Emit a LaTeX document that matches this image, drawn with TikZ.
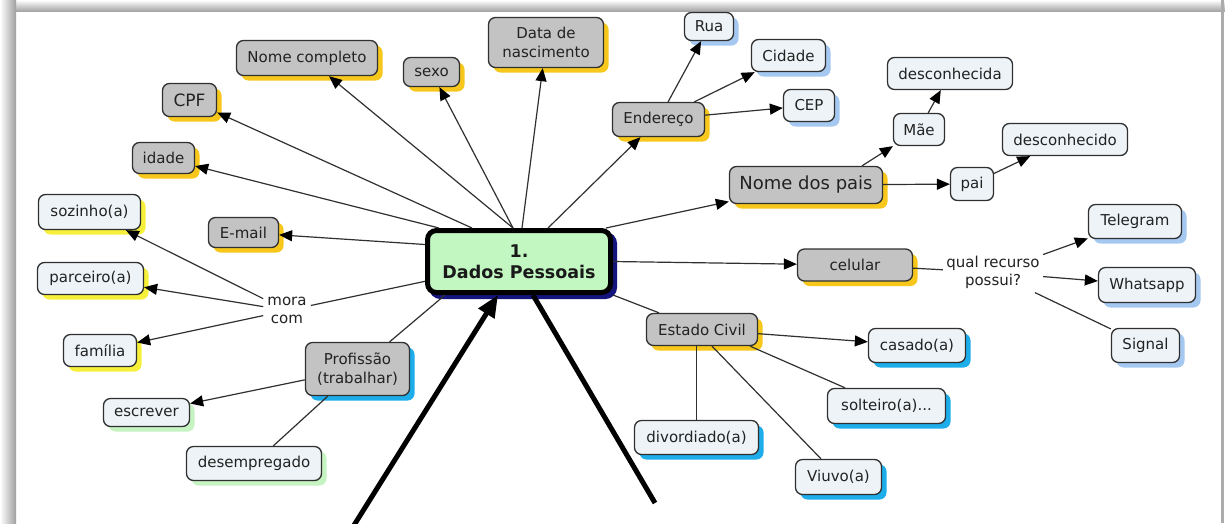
\documentclass[tikz,border=0pt]{standalone}
\usepackage{fontspec}
\setmainfont{DejaVu Sans}
\usetikzlibrary{arrows.meta,shadows,calc}

\definecolor{nodegray}{HTML}{C3C3C3}
\definecolor{nodelight}{HTML}{EDF3F7}
\definecolor{edgecol}{HTML}{303030}
\definecolor{shgold}{HTML}{F7C71C}
\definecolor{shyellow}{HTML}{F6F03A}
\definecolor{shpale}{HTML}{A4C8F0}
\definecolor{shcyan}{HTML}{1EADEB}
\definecolor{shgreen}{HTML}{C6F3C2}
\definecolor{centerfill}{HTML}{C2F7C2}
\definecolor{centershadow}{HTML}{14147E}
\definecolor{textcol}{HTML}{222222}

\begin{document}
\begin{tikzpicture}[x=1pt,y=-1pt,
  concept/.style={rounded corners=7pt, draw=edgecol, line width=1.3pt,
    font=\fontsize{15}{19}\selectfont, text=textcol, inner xsep=9pt,
    inner ysep=3pt, align=center},
  sz/.style 2 args={minimum width=#1, minimum height=#2},
  graynode/.style={concept, fill=nodegray},
  lightnode/.style={concept, fill=nodelight},
  sh/.style={drop shadow={shadow xshift=5pt, shadow yshift=-5pt, fill=#1, opacity=1}},
  link/.style={draw=edgecol, line width=1.2pt},
  arr/.style={link, -{Triangle[length=13pt,width=11pt,color=black]}},
  phrase/.style={font=\fontsize{15}{18.5}\selectfont, text=textcol, align=center},
  bigline/.style={line width=5pt, black}
]
% page frame with soft grey border
\useasboundingbox (0,0) rectangle (1225,523);
\fill[white] (0,0) rectangle (1225,523);
\shade[top color=white, bottom color=gray!70] (0,0) rectangle (1225,11);
\shade[left color=white, right color=gray!75] (0,0) rectangle (16,523);
\fill[gray!65] (1221,0) rectangle (1224,523);

% central concept
\node[draw=black, line width=5pt, rounded corners=9pt, fill=centerfill,
  minimum width=183pt, minimum height=62pt, align=center,
  font=\bfseries\fontsize{17.5}{21}\selectfont, text=black!90,
  drop shadow={shadow xshift=4pt, shadow yshift=-4pt, fill=centershadow,
    draw=centershadow, opacity=1}]
  (c) at (519,261.5) {1.\\Dados Pessoais};

% first-level concepts
\node[graynode, sh=shgold, sz={141pt}{35pt}] (nome) at (307,58) {Nome completo};
\node[graynode, sh=shgold, sz={54pt}{33pt}, font=\fontsize{17}{19}\selectfont] (cpf) at (189.5,100) {CPF};
\node[graynode, sh=shgold, sz={62pt}{31pt}] (idade) at (163.5,158) {idade};
\node[graynode, sh=shgold, sz={70pt}{30pt}] (email) at (243.5,232.5) {E-mail};
\node[graynode, sh=shgold, sz={56pt}{29pt}] (sexo) at (431.5,72) {sexo};
\node[graynode, sh=shgold, sz={115pt}{50pt}] (data) at (546,42.5) {Data de\\nascimento};
\node[graynode, sh=shgold, sz={92pt}{34pt}] (end) at (658.5,119.5) {Endereço};
\node[graynode, sh=shgold, sz={153pt}{37pt}, font=\fontsize{18}{22}\selectfont] (ndp) at (806,185) {Nome dos pais};
\node[graynode, sh=shgold, sz={115pt}{32pt}] (cel) at (855,265) {celular};
\node[graynode, sh=shgold, sz={111pt}{32pt}] (ec) at (702,329.5) {Estado Civil};
\node[graynode, sh=shcyan, sz={104pt}{53pt}] (prof) at (357.5,369) {Profissão\\(trabalhar)};

% address details
\node[lightnode, sh=shpale, sz={49pt}{28pt}] (rua) at (709,26.5) {Rua};
\node[lightnode, sh=shpale, sz={74pt}{32pt}] (cid) at (788.5,55.5) {Cidade};
\node[lightnode, sh=shpale, sz={51pt}{32pt}] (cep) at (809,105.5) {CEP};

% parents
\node[lightnode, sz={51pt}{32pt}] (mae) at (919,129.5) {Mãe};
\node[lightnode, sz={125pt}{32pt}] (desca) at (950,73.5) {desconhecida};
\node[lightnode, sz={43pt}{33pt}] (pai) at (972,184) {pai};
\node[lightnode, sz={125pt}{32pt}] (desco) at (1065,139.5) {desconhecido};

% phone apps
\node[phrase] (qr) at (993,272.5) {qual recurso\\possui?};
\node[lightnode, sh=shpale, sz={93pt}{34pt}] (tele) at (1135,221.5) {Telegram};
\node[lightnode, sh=shpale, sz={97pt}{35pt}] (what) at (1147,285) {Whatsapp};
\node[lightnode, sh=shpale, sz={68pt}{34pt}] (sig) at (1145.5,345.5) {Signal};

% civil status
\node[lightnode, sh=shcyan, sz={97pt}{34pt}] (cas) at (917,345.5) {casado(a)};
\node[lightnode, sh=shcyan, sz={118pt}{35pt}] (sol) at (886.5,406) {solteiro(a)...};
\node[lightnode, sh=shcyan, sz={124pt}{34pt}] (div) at (696.5,437.5) {divordiado(a)};
\node[lightnode, sh=shcyan, sz={86pt}{35pt}] (viu) at (838.5,477) {Viuvo(a)};

% living with
\node[phrase, inner xsep=4pt, inner ysep=2pt] (mora) at (287,310.5) {mora\\com};
\node[lightnode, sh=shyellow, sz={102pt}{35pt}] (soz) at (89.5,212) {sozinho(a)};
\node[lightnode, sh=shyellow, sz={106pt}{32pt}] (parc) at (90.5,278.5) {parceiro(a)};
\node[lightnode, sh=shyellow, sz={73pt}{32pt}] (fam) at (100,350.5) {família};

% work
\node[lightnode, sh=shgreen, sz={86pt}{28pt}] (escr) at (146.5,412.5) {escrever};
\node[lightnode, sh=shgreen, sz={135pt}{34pt}] (desem) at (254,463.5) {desempregado};

% links from the central concept
\draw[arr] ([xshift=-6pt]c.north) -- (nome);
\draw[arr] ([xshift=-47pt]c.north) -- (cpf);
\draw[arr] ([xshift=-80pt]c.north) -- (idade);
\draw[arr] ([yshift=17pt]c.west) -- (email);
\draw[arr] ([xshift=-6pt]c.north) -- (sexo);
\draw[arr] ([xshift=3pt]c.north) -- (data);
\draw[arr] ([xshift=29pt]c.north) -- (end);
\draw[arr] ([xshift=87pt]c.north) -- (ndp);
\draw[arr] (c.east) -- (cel);
\draw[link] (c.south east) -- (ec);
\draw[link] ([xshift=-74pt]c.south) -- (prof);
\draw[link] (c) -- (mora);

% address
\draw[arr] (end) -- (rua);
\draw[arr] (end) -- (cid);
\draw[arr] (end) -- (cep);

% parents
\draw[arr] ([xshift=56pt]ndp.north) -- (mae);
\draw[arr] (ndp) -- (pai);
\draw[arr] (mae) -- (desca);
\draw[arr] (pai) -- (desco);

% phone
\draw[link] (cel) -- (qr);
\draw[arr] (qr) -- (tele);
\draw[arr] (qr) -- (what);
\draw[link] (qr) -- (sig);

% civil status
\draw[arr] (ec) -- (cas);
\draw[link] ([xshift=48pt]ec.south) -- (sol);
\draw[link] (ec.south -| div.north) -- (div.north);
\draw[link] ([xshift=10pt]ec.south) -- (viu);

% living with
\draw[arr] (mora) -- (soz);
\draw[arr] (mora) -- (parc);
\draw[arr] (mora) -- (fam);

% work
\draw[arr] (prof) -- (escr);
\draw[link] (prof) -- (desem);

% heavy strokes below the central concept
\coordinate (a1) at (351,530);
\coordinate (a2) at (655,503);
\draw[bigline, -{Triangle[length=22pt,width=18pt]}] (a1) -- ([xshift=-21pt]c.south);
\draw[bigline] ([xshift=14pt]c.south) -- (a2);
\end{tikzpicture}
\end{document}
